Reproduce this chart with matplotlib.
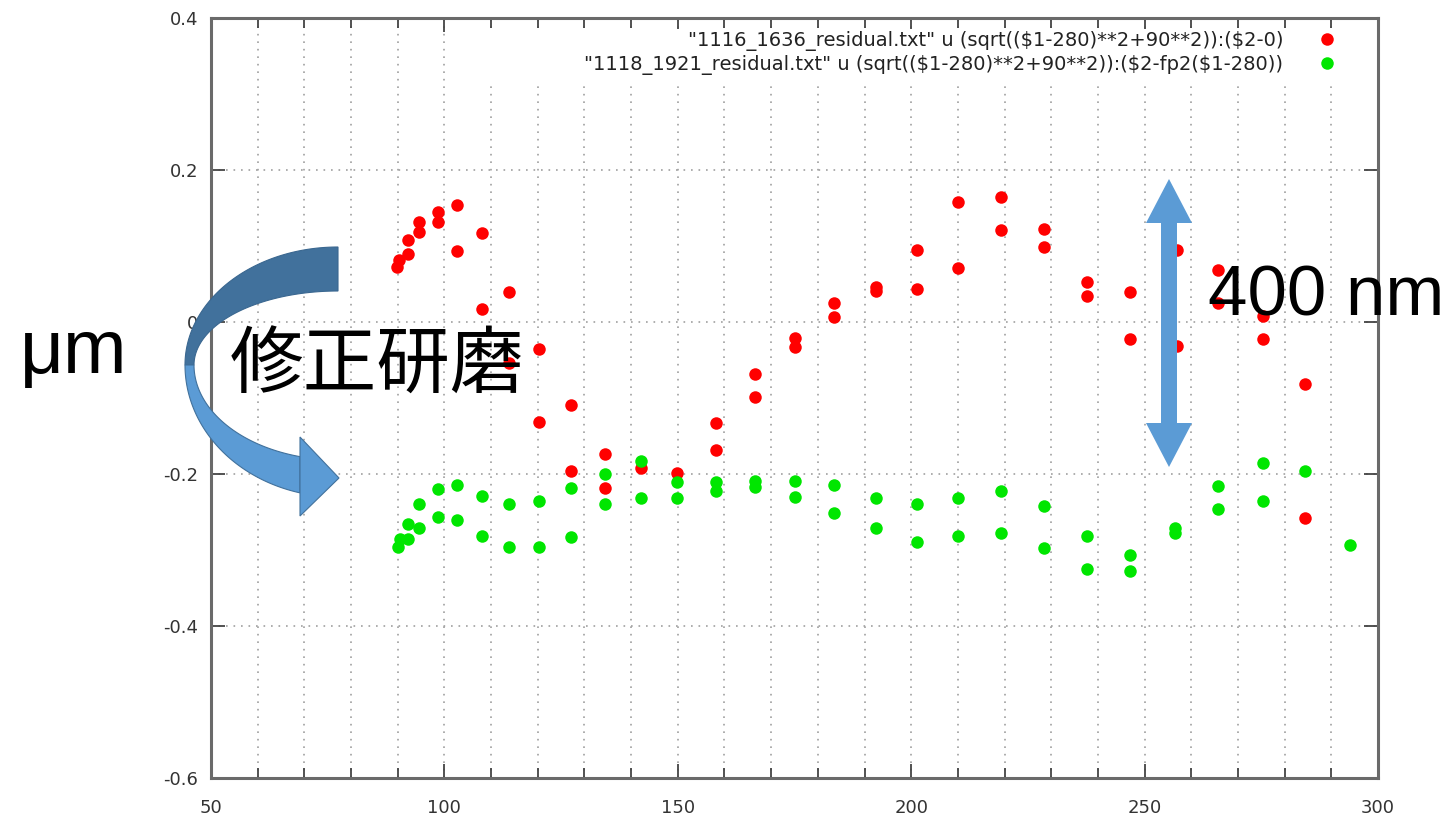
import numpy as np
import matplotlib.pyplot as plt
from matplotlib.patches import Polygon, Rectangle
from matplotlib.ticker import MultipleLocator

# residual points
red_x = [89.9, 90.3, 92.3, 92.3, 94.6, 94.6, 98.6, 98.6, 102.8, 102.8,
         108.1, 108.1, 113.8, 113.8, 120.2, 120.2, 127.2, 127.2, 134.3, 134.3,
         142.1, 149.9, 158.1, 158.1, 166.6, 166.6, 175.0, 175.0, 183.5, 183.5,
         192.4, 192.4, 201.2, 201.2, 210.1, 210.1, 219.2, 219.2, 228.4, 228.4,
         237.7, 237.7, 246.9, 246.9, 256.9, 256.9, 265.7, 265.7, 275.3, 275.3,
         284.4, 284.4]
red_y = [0.073, 0.082, 0.090, 0.108, 0.119, 0.131, 0.132, 0.145, 0.154, 0.093,
         0.117, 0.017, 0.039, -0.054, -0.036, -0.131, -0.109, -0.196, -0.174, -0.218,
         -0.192, -0.199, -0.133, -0.168, -0.068, -0.099, -0.021, -0.033, 0.025, 0.006,
         0.046, 0.041, 0.095, 0.043, 0.158, 0.071, 0.165, 0.121, 0.123, 0.099,
         0.052, 0.034, 0.039, -0.023, 0.095, -0.032, 0.069, 0.025, 0.008, -0.023,
         -0.082, -0.258]

green_x = [90.1, 90.5, 92.3, 92.3, 94.6, 94.6, 98.6, 98.6, 102.8, 102.8,
           108.1, 108.1, 113.8, 113.8, 120.2, 120.2, 127.2, 127.2, 134.3, 134.3,
           142.1, 142.1, 149.9, 149.9, 158.1, 158.1, 166.6, 166.6, 175.0, 175.0,
           183.5, 183.5, 192.4, 192.4, 201.2, 201.2, 210.1, 210.1, 219.2, 219.2,
           228.4, 228.4, 237.7, 237.7, 246.9, 246.9, 256.5, 256.5, 265.7, 265.7,
           275.3, 275.3, 284.4, 294.0]
green_y = [-0.296, -0.285, -0.285, -0.266, -0.271, -0.239, -0.257, -0.220, -0.214, -0.260,
           -0.229, -0.282, -0.239, -0.296, -0.236, -0.296, -0.218, -0.283, -0.200, -0.240,
           -0.183, -0.231, -0.210, -0.232, -0.211, -0.222, -0.209, -0.217, -0.209, -0.230,
           -0.214, -0.251, -0.232, -0.271, -0.240, -0.290, -0.232, -0.282, -0.222, -0.277,
           -0.242, -0.298, -0.282, -0.325, -0.306, -0.327, -0.271, -0.277, -0.216, -0.246,
           -0.185, -0.236, -0.196, -0.293]

red_label = '"1116_1636_residual.txt" u (sqrt((\\$1-280)**2+90**2)):(\\$2-0)'
green_label = '"1118_1921_residual.txt" u (sqrt((\\$1-280)**2+90**2)):(\\$2-fp2(\\$1-280))'

x_ticks = [50, 100, 150, 200, 250, 300]
y_ticks = [-0.6, -0.4, -0.2, 0, 0.2, 0.4]
y_ticklabels = ["-0.6", "-0.4", "-0.2", "0", "0.2", "0.4"]

W, H = 1452, 818
fig = plt.figure(figsize=(W / 100, H / 100), dpi=100)
ax = fig.add_axes([211 / W, 1 - 778 / H, (1378 - 211) / W, (778 - 18) / H])

ax.plot(red_x, red_y, 'o', color='#ff0000', ms=9, mew=0, label=red_label, zorder=3)
ax.plot(green_x, green_y, 'o', color='#00e600', ms=9, mew=0, label=green_label, zorder=3)

ax.set_xlim(50, 300)
ax.set_ylim(-0.6, 0.4)
ax.set_xticks(x_ticks)
ax.xaxis.set_minor_locator(MultipleLocator(10))
ax.set_yticks(y_ticks)
ax.set_yticklabels(y_ticklabels)

ax.tick_params(which='both', direction='in', top=True, right=True,
               color='#444444', labelcolor='#333333', labelsize=13, width=1.3)
ax.tick_params(which='major', length=10)
ax.tick_params(which='minor', length=7)
ax.tick_params(axis='x', pad=15)
ax.tick_params(axis='y', pad=9)

# dotted gnuplot-style grid
ax.grid(True, axis='x', which='both', color='#a0a0a0', linestyle=(0, (1, 3.5)), lw=1.2)
ax.grid(True, axis='y', which='major', color='#a0a0a0', linestyle=(0, (1, 3.5)), lw=1.2)
for s in ax.spines.values():
    s.set_color('#6a6a6a')
    s.set_linewidth(2.2)

# key area clears the grid
ax.add_patch(Rectangle((0.232, 0.912), 0.766, 0.0735, transform=ax.transAxes,
                       facecolor='white', edgecolor='none', zorder=2))

leg = ax.legend(loc='upper right', bbox_to_anchor=(0.9646, 0.9833), markerfirst=False,
                frameon=False, fontsize=14, handlelength=1.0, handletextpad=1.75,
                labelspacing=0.2, borderaxespad=0, borderpad=0, labelcolor='#222222')
leg.set_zorder(4)

# overlay in pixel coordinates for the slide annotations
ov = fig.add_axes([0, 0, 1, 1], zorder=5)
ov.set_xlim(0, W)
ov.set_ylim(H, 0)
ov.axis('off')

# curved arrow (back band dark, front band light)
cx, cy = 338, 365
t = np.linspace(np.pi, 1.5 * np.pi, 80)
outer = np.column_stack([cx + 153 * np.cos(t), cy + 118 * np.sin(t)])
inner = np.column_stack([cx + 144 * np.cos(t), cy + 74 * np.sin(t)])
ov.add_patch(Polygon(np.vstack([outer, inner[::-1]]), closed=True,
                     facecolor='#41719c', edgecolor='#3a6790', lw=0.8))

t1 = np.linspace(np.pi, np.arccos(-38 / 153), 80)
t2 = np.linspace(np.pi, np.arccos(-38 / 144), 80)
outer = np.column_stack([cx + 153 * np.cos(t1), cy + 132 * np.sin(t1)])
inner = np.column_stack([cx + 144 * np.cos(t2), cy + 95 * np.sin(t2)])
ov.add_patch(Polygon(np.vstack([outer, inner[::-1]]), closed=True,
                     facecolor='#5b9bd5', edgecolor='#41719c', lw=0.8))
ov.add_patch(Polygon([(300, 437), (339, 478), (300, 516)], closed=True,
                     facecolor='#5b9bd5', edgecolor='#41719c', lw=0.8))

# double arrow
ov.add_patch(Polygon([(1169, 179), (1192, 223), (1177, 223), (1177, 423), (1192, 423),
                      (1169, 467), (1146, 423), (1161, 423), (1161, 223), (1146, 223)],
                     closed=True, facecolor='#5b9bd5', edgecolor='none'))

ov.text(1208, 315, "400 nm", fontsize=51, family=['Liberation Sans', 'DejaVu Sans'],
        va='baseline', ha='left', color='black')
ov.text(20, 373, "μm", fontsize=55, family=['Liberation Sans', 'DejaVu Sans'],
        va='baseline', ha='left', color='black')
ov.text(230, 388, "修正研磨", fontsize=53, family=['Noto Sans CJK JP', 'DejaVu Sans'],
        va='baseline', ha='left', color='black')

fig.savefig("out.png", dpi=100)
